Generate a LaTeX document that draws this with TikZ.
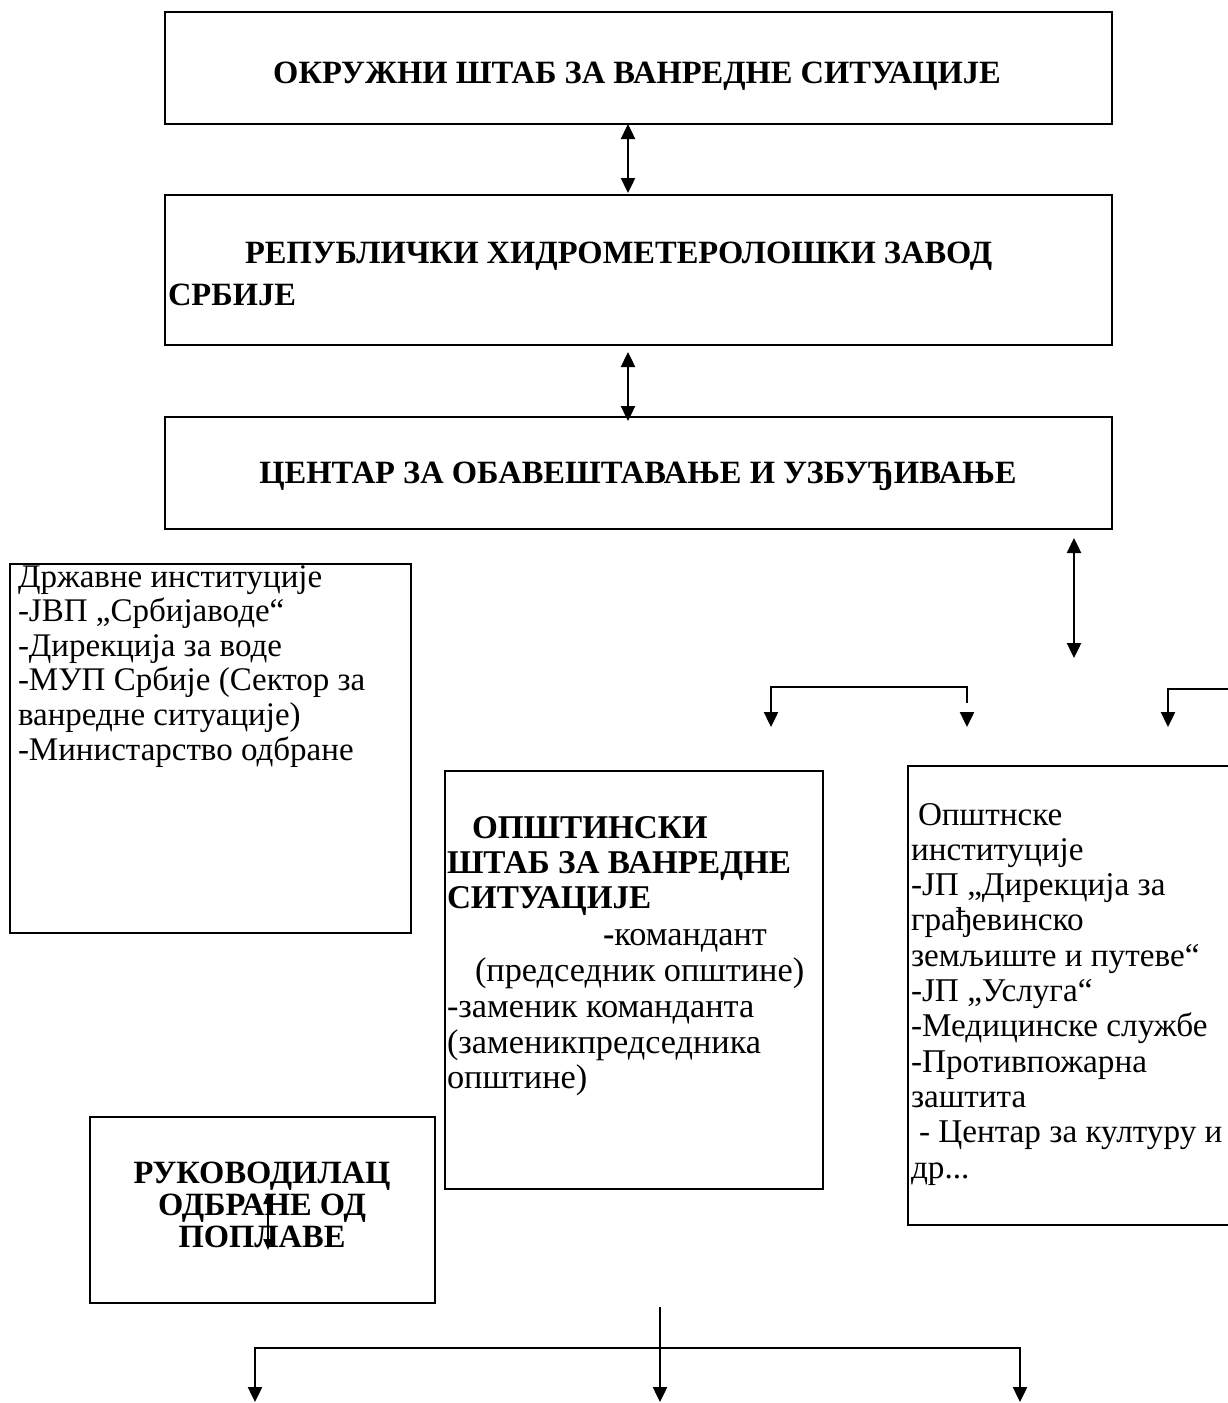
\documentclass[tikz,border=0pt]{standalone}
\usepackage{fontspec}
\setmainfont{Liberation Serif}
\usetikzlibrary{arrows.meta}
\newcommand\myhfs{\fontsize{32.5}{35}\selectfont}
\begin{document}
\begin{tikzpicture}[x=1pt,y=-1pt,
  box/.style={draw, line width=2.6pt, inner sep=0pt, outer sep=0pt, anchor=north west},
  lbl/.style={inner sep=0pt, outer sep=0pt},
  blbl/.style={inner sep=0pt, outer sep=0pt, font=\myhfs\bfseries},
  mlbl/.style={inner sep=0pt, outer sep=0pt, font=\fontsize{34.3}{36}\selectfont},
  mblbl/.style={inner sep=0pt, outer sep=0pt, font=\fontsize{33.2}{36}\selectfont\bfseries},
  link/.style={line width=2.4pt, line join=miter, -{Triangle[length=15pt,width=14pt]}},
  dlink/.style={line width=2.4pt, line join=miter, {Triangle[length=15pt,width=14pt]}-{Triangle[length=15pt,width=14pt]}},
  slink/.style={line width=2pt, {Triangle[length=11pt,width=9pt]}-{Triangle[length=11pt,width=9pt]}},
]
\useasboundingbox (0,0) rectangle (1227,1403);

% boxes
\node[box, minimum width=947pt, minimum height=112pt] (b1) at (165,12) {};
\node[box, minimum width=947pt, minimum height=150pt] (b2) at (165,195) {};
\node[box, minimum width=947pt, minimum height=112pt] (b3) at (165,417) {};
\node[box, minimum width=401pt, minimum height=369pt] (bl) at (10,564) {};
\node[box, minimum width=378pt, minimum height=418pt] (bm) at (445,771) {};
\node[box, minimum width=330pt, minimum height=459pt] (br) at (908,766) {};
\node[box, minimum width=345pt, minimum height=186pt] (bk) at (90,1117) {};

% texts
\node[blbl, anchor=base] (t1) at (637,83) {ОКРУЖНИ ШТАБ ЗА ВАНРЕДНЕ СИТУАЦИЈЕ};
\node[blbl, anchor=base west] (t2a) at (245,263) {РЕПУБЛИЧКИ ХИДРОМЕТЕРОЛОШКИ ЗАВОД};
\node[blbl, anchor=base west] (t2b) at (168,305) {СРБИЈЕ};
\node[blbl, anchor=base] (t3) at (638,483) {ЦЕНТАР ЗА ОБАВЕШТАВАЊЕ И УЗБУЂИВАЊЕ};

\node[lbl, anchor=north west, align=left, font=\fontsize{33}{34.6}\selectfont] (tl) at (18,562.8)
 {\strut Државне институције\\
  -ЈВП „Србијаводе“\\
  -Дирекција за воде\\
  -МУП Србије (Сектор за\\
  ванредне ситуације)\\
  -Министарство одбране};

\node[mblbl, anchor=base west] (m1) at (472,838) {ОПШТИНСКИ};
\node[mblbl, anchor=base west] (m2) at (447,873) {ШТАБ ЗА ВАНРЕДНЕ};
\node[mblbl, anchor=base west] (m3) at (447,908) {СИТУАЦИЈЕ};
\node[mlbl, anchor=base west] (m4) at (603,945) {\textbf{-}командант};
\node[mlbl, anchor=base west] (m5) at (475,981) {(председник општине)};
\node[mlbl, anchor=base west] (m6) at (447,1017) {-заменик команданта};
\node[mlbl, anchor=base west] (m7) at (447,1053) {(заменикпредседника};
\node[mlbl, anchor=base west] (m8) at (447,1088) {општине)};

\node[lbl, anchor=north west, align=left, font=\fontsize{33.2}{35.3}\selectfont] (tr) at (911,800.3)
 {\strut\hspace{7pt}Општнске\\
  институције\\
  -ЈП „Дирекција за\\
  грађевинско\\
  земљиште и путеве“\\
  -ЈП „Услуга“\\
  -Медицинске службе\\
  -Противпожарна\\
  заштита\\
  \hspace{8pt}- Центар за културу и\\
  др...};

\node[blbl, anchor=base] (k1) at (262,1183) {РУКОВОДИЛАЦ};
\node[blbl, anchor=base] (k2) at (262,1215) {ОДБРАНЕ ОД};
\node[blbl, anchor=base] (k3) at (262,1247) {ПОПЛАВЕ};

% connector points
\coordinate (a1t) at (628,124);
\coordinate (a1b) at (628,193);
\coordinate (a2t) at (628,352);
\coordinate (a2b) at (628,421);
\coordinate (a3t) at (1074,538);
\coordinate (a3b) at (1074,658);
\coordinate (c1) at (967,703);
\coordinate (c2) at (967,687);
\coordinate (c3) at (771,687);
\coordinate (c4) at (771,727);
\coordinate (c5) at (967,712);
\coordinate (c6) at (967,727);
\coordinate (r1) at (1232,689);
\coordinate (r2) at (1168,689);
\coordinate (r3) at (1168,727);
\coordinate (s1) at (268,1193);
\coordinate (s2) at (268,1250);
\coordinate (d0) at (660,1307);
\coordinate (d1) at (660,1402);
\coordinate (e1) at (255,1402);
\coordinate (e2) at (255,1348);
\coordinate (e3) at (1020,1348);
\coordinate (e4) at (1020,1402);

\draw[dlink] (a1t) -- (a1b);
\draw[dlink] (a2t) -- (a2b);
\draw[dlink] (a3t) -- (a3b);
\draw[link] (c1) -- (c2) -- (c3) -- (c4);
\draw[link] (c5) -- (c6);
\draw[link] (r1) -- (r2) -- (r3);
\draw[slink] (s1) -- (s2);
\draw[link] (d0) -- (d1);
\draw[dlink] (e1) -- (e2) -- (e3) -- (e4);
\end{tikzpicture}
\end{document}
